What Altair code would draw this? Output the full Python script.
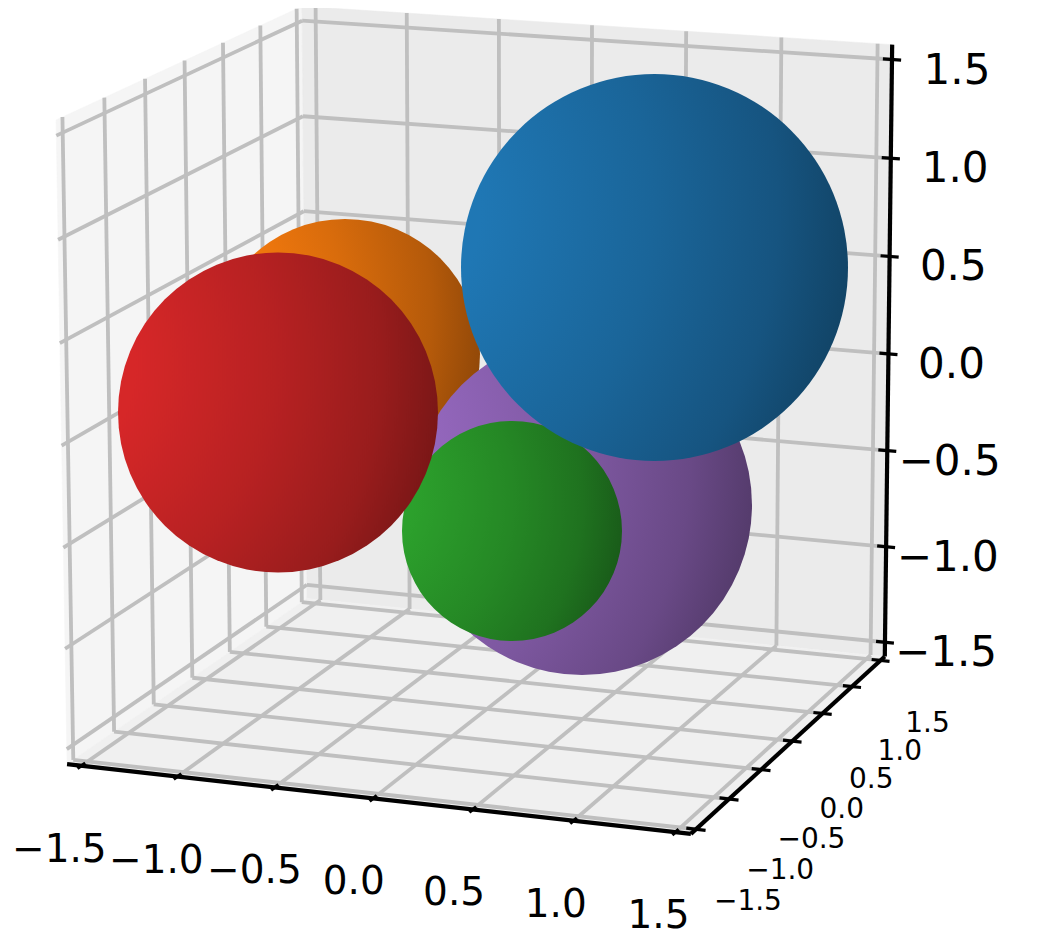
import numpy as np
import pandas as pd
import altair as alt

# tick values shared by the three axes, and the axis limit
TICKS = [-1.5, -1.0, -0.5, 0.0, 0.5, 1.0, 1.5]
LABELS = ["\u22121.5", "\u22121.0", "\u22120.5", "0.0", "0.5", "1.0", "1.5"]
LIM = 1.575

# box corners (data sign of x, y, z) as read on the picture, used to calibrate the 3D view
CORNER_SIGNS = [(-1, -1, 1), (-1, 1, 1), (1, 1, 1), (1, 1, -1), (1, -1, -1), (-1, -1, -1), (-1, 1, -1)]
CORNER_PIX_X = [54, 305, 891, 884, 693, 67, 306]
CORNER_PIX_Y = [122, 5, 44, 657, 834, 762, 600]

# spheres, back to front, in projected picture units
SPHERE_NAMES = ["orange", "purple", "green", "red", "blue"]
SPHERE_X = [345, 582, 512, 278, 654.5]
SPHERE_Y = [354, 505, 531, 412.5, 267.5]
SPHERE_D = [270, 340, 220, 320, 387]
SPHERE_RGB = [(255, 127, 14), (148, 103, 189), (44, 160, 44), (214, 39, 40), (31, 119, 180)]

W, H = 1032, 933
OX, OY = 8, 8


def fit_camera():
    rows = []
    for (sx, sy, sz), u, v in zip(CORNER_SIGNS, CORNER_PIX_X, CORNER_PIX_Y):
        X = [sx * LIM, sy * LIM, sz * LIM, 1.0]
        rows.append(X + [0, 0, 0, 0] + [-u * c for c in X])
        rows.append([0, 0, 0, 0] + X + [-v * c for c in X])
    _, _, vt = np.linalg.svd(np.array(rows, dtype=float))
    return vt[-1].reshape(3, 4)


CAM = fit_camera()


def proj(x, y, z):
    p = CAM @ np.array([x, y, z, 1.0])
    return float(p[0] / p[2]), float(p[1] / p[2])


def seg(a, b):
    (x1, y1), (x2, y2) = proj(*a), proj(*b)
    return {"x": x1, "y": y1, "x2": x2, "y2": y2}


X_SCALE = alt.Scale(domain=[OX, OX + W], range=[0, W], nice=False, zero=False)
Y_SCALE = alt.Scale(domain=[OY, OY + H], range=[0, H], nice=False, zero=False)
X = alt.X("x:Q", scale=X_SCALE, axis=None)
Y = alt.Y("y:Q", scale=Y_SCALE, axis=None)


def rules(rows, color, width):
    return alt.Chart(pd.DataFrame(rows)).mark_rule(color=color, strokeWidth=width).encode(
        x=X, y=Y, x2="x2:Q", y2="y2:Q"
    )


def pane(corners, color):
    pts = [proj(*c) for c in corners]
    pts.append(pts[0])
    df = pd.DataFrame({"x": [p[0] for p in pts], "y": [p[1] for p in pts], "i": range(len(pts))})
    return alt.Chart(df).mark_line(fill=color, stroke=color, strokeWidth=0.5).encode(
        x=X, y=Y, order="i:Q"
    )


L = LIM
panes = [
    pane([(-L, -L, L), (-L, L, L), (-L, L, -L), (-L, -L, -L)], "#f5f5f5"),
    pane([(-L, L, L), (L, L, L), (L, L, -L), (-L, L, -L)], "#ebebeb"),
    pane([(-L, -L, -L), (L, -L, -L), (L, L, -L), (-L, L, -L)], "#f0f0f0"),
]

grid_rows = []
for t in TICKS:
    grid_rows.append(seg((-L, t, -L), (-L, t, L)))   # left wall, y lines
    grid_rows.append(seg((-L, -L, t), (-L, L, t)))   # left wall, z lines
    grid_rows.append(seg((t, L, -L), (t, L, L)))     # back wall, x lines
    grid_rows.append(seg((-L, L, t), (L, L, t)))     # back wall, z lines
    grid_rows.append(seg((t, -L, -L), (t, L, -L)))   # floor, x lines
    grid_rows.append(seg((-L, t, -L), (L, t, -L)))   # floor, y lines
grid = rules(grid_rows, "#bfbfbf", 3.8)

axis_rows = [
    seg((-L, -L, -L), (L, -L, -L)),
    seg((L, -L, -L), (L, L, -L)),
    seg((L, L, -L), (L, L, L)),
]
axes = rules(axis_rows, "#000000", 4.2)

TICK_HALF = 0.047
tick_rows = []
for t in TICKS:
    tick_rows.append(seg((t, -L - TICK_HALF, -L), (t, -L + TICK_HALF, -L)))
    tick_rows.append(seg((L - TICK_HALF, t, -L), (L + TICK_HALF, t, -L)))
    tick_rows.append(seg((L - TICK_HALF, L, t), (L + TICK_HALF, L, t)))
ticks = rules(tick_rows, "#000000", 3.2)


def tick_text(points, dx, dy, slope_x, slope_y, size):
    df = pd.DataFrame({
        "x": [p[0] + dx + slope_x * t for p, t in zip(points, TICKS)],
        "y": [p[1] + dy + slope_y * t for p, t in zip(points, TICKS)],
        "label": LABELS,
    })
    return alt.Chart(df).mark_text(
        font="DejaVu Sans", fontSize=size, align="center", baseline="middle", color="#000000"
    ).encode(x=X, y=Y, text="label:N")


x_text = tick_text([proj(t, -L, -L) for t in TICKS], -19.5, 84, 1.7, 0, 39)
y_text = tick_text([proj(L, t, -L) for t in TICKS], 49.5, 68.5, -1.67, -3, 28)
z_text = tick_text([proj(L, L, t) for t in TICKS], 63, 11, 1.33, 0, 42)


def shade(rgb, k):
    return "#%02x%02x%02x" % tuple(int(round(c * k)) for c in rgb)


def sphere(name, cx, cy, d, rgb):
    gradient = {
        "gradient": "radial",
        "x1": -0.3, "y1": 0.35, "r1": 0,
        "x2": -0.3, "y2": 0.35, "r2": 1.4,
        "stops": [
            {"offset": 0, "color": shade(rgb, 1.0)},
            {"offset": 0.25, "color": shade(rgb, 1.0)},
            {"offset": 0.57, "color": shade(rgb, 0.85)},
            {"offset": 0.8, "color": shade(rgb, 0.71)},
            {"offset": 0.95, "color": shade(rgb, 0.56)},
            {"offset": 1, "color": shade(rgb, 0.52)},
        ],
    }
    df = pd.DataFrame({"x": [cx], "y": [cy], "size": [d * d], "name": [name]})
    return alt.Chart(df).mark_circle(fill=gradient, opacity=1, strokeWidth=0).encode(
        x=X, y=Y, size=alt.Size("size:Q", scale=None, legend=None)
    )


spheres = [
    sphere(n, cx, cy, d, rgb)
    for n, cx, cy, d, rgb in zip(SPHERE_NAMES, SPHERE_X, SPHERE_Y, SPHERE_D, SPHERE_RGB)
]

chart = alt.layer(
    *panes, grid, axes, ticks, *spheres, x_text, y_text, z_text
).properties(
    width=W, height=H, padding=0, autosize=alt.AutoSizeParams(type="none"), background="white"
).configure_view(strokeWidth=0)

chart.save("out.html", embed_options={"renderer": "svg", "actions": False})
